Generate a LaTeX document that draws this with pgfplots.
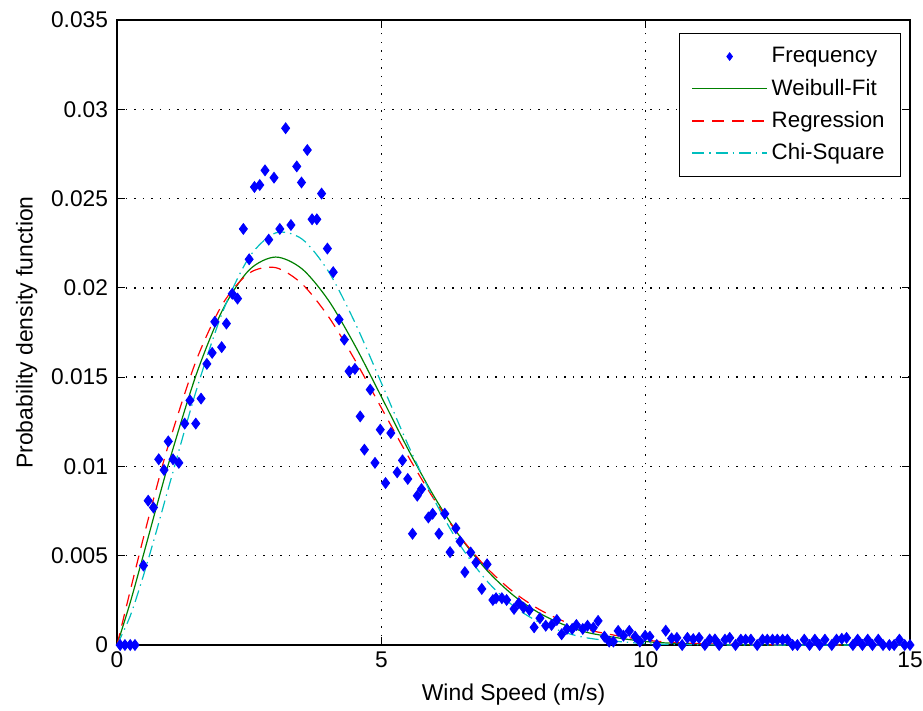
\documentclass[border=0pt]{standalone}
\usepackage{pgfplots}
\pgfplotsset{compat=1.18}
\usepackage{fontspec}
\setmainfont{Liberation Sans}
\definecolor{wgreen}{RGB}{0,128,0}
\definecolor{chicyan}{RGB}{0,190,190}
\definecolor{fblue}{RGB}{0,0,255}
\begin{document}
\begin{tikzpicture}
\begin{axis}[
  scale only axis, width=396.5bp, height=312.5bp,
  xmin=0, xmax=15, ymin=0, ymax=0.035,
  xtick={0,5,10,15}, xticklabels={0,5,10,15},
  ytick={0,0.005,0.01,0.015,0.02,0.025,0.03,0.035},
  yticklabels={0,0.005,0.01,0.015,0.02,0.025,0.03,0.035},
  scaled y ticks=false,
  tick align=inside, major tick length=4bp,
  xtick pos=both, ytick pos=both,
  grid=major,
  grid style={black, line width=0.7pt, dash pattern=on 0.7bp off 3.6bp},
  axis line style={black, line width=0.6pt},
  tick style={black, line width=0.6pt},
  ticklabel style={font=\fontsize{11.4}{13}\selectfont},
  yticklabel style={xshift=-1bp},
  label style={font=\fontsize{11.5}{13}\selectfont},
  xlabel={Wind Speed (m/s)}, ylabel={Probability density function},
  xlabel style={yshift=-1bp},
  legend cell align=left,
  legend style={at={(1,1)}, anchor=north east, xshift=-4.5bp, yshift=-6.5bp,
    font=\fontsize{11.2}{13}\selectfont,
    row sep=2.6bp, inner xsep=6bp, inner ysep=5bp},
  legend image code/.code={\draw[mark repeat=2,mark phase=2,#1] plot coordinates {(0cm,0cm) (0.66cm,0cm) (1.32cm,0cm)};},
]
\addlegendimage{only marks, mark=diamond*, mark size=1.9bp, color=fblue}
\addlegendentry{Frequency}
\addlegendimage{color=wgreen, line width=0.7pt}
\addlegendentry{Weibull-Fit}
\addlegendimage{color=red, line width=0.7pt, dash pattern=on 6bp off 4bp}
\addlegendentry{Regression}
\addlegendimage{color=chicyan, line width=0.7pt, dash pattern=on 6bp off 2.5bp on 0.7bp off 2.5bp}
\addlegendentry{Chi-Square}
\addplot[forget plot, only marks, mark=diamond*, mark size=2.7bp, color=fblue] coordinates {
(0.06,0) (0.15,0) (0.25,0) (0.34,0) (0.50,0.00445) (0.59,0.00808) (0.69,0.0077)
(0.79,0.0104) (0.89,0.0098) (0.97,0.0114) (1.06,0.0104) (1.17,0.0102) (1.28,0.0124)
(1.38,0.0137) (1.49,0.0124) (1.59,0.0138) (1.70,0.01574) (1.80,0.01636) (1.85,0.0181)
(1.98,0.01668) (2.07,0.0180) (2.18,0.01967) (2.28,0.0194) (2.39,0.0233) (2.50,0.0216)
(2.60,0.02565) (2.70,0.02576) (2.80,0.02658) (2.87,0.0227) (2.97,0.02617) (3.08,0.0233)
(3.19,0.02894) (3.29,0.02352) (3.40,0.0268) (3.49,0.0259) (3.60,0.02772) (3.69,0.02384)
(3.78,0.02384) (3.87,0.02528) (3.98,0.0222) (4.09,0.02088) (4.20,0.01823) (4.30,0.0171)
(4.39,0.01533) (4.50,0.01546) (4.60,0.0128) (4.68,0.01094) (4.79,0.0143) (4.88,0.0102)
(4.98,0.01206) (5.08,0.00907) (5.18,0.01187) (5.30,0.00967) (5.40,0.01034) (5.50,0.0093)
(5.59,0.00623) (5.68,0.00836) (5.76,0.00873) (5.89,0.00714) (5.97,0.00735) (6.09,0.00623)
(6.20,0.00735) (6.30,0.0052) (6.41,0.00654) (6.49,0.0058) (6.58,0.00408) (6.69,0.00518)
(6.79,0.00462) (6.90,0.00314) (7.00,0.00452) (7.11,0.00252) (7.17,0.00262) (7.28,0.00262)
(7.37,0.00252) (7.51,0.00202) (7.60,0.00234) (7.69,0.00209) (7.80,0.00196) (7.89,0.00099)
(8.00,0.0015) (8.11,0.00108) (8.22,0.00112) (8.32,0.0014) (8.41,0.0006) (8.51,0.0009)
(8.61,0.0009) (8.69,0.00112) (8.81,0.0009) (8.90,0.00108) (9.01,0.00097) (9.10,0.00135)
(9.22,0.00047) (9.31,0.00019) (9.39,0.00019) (9.48,0.00079) (9.58,0.00052) (9.69,0.00079)
(9.80,0.00047) (9.89,0.00019) (9.99,0.00052) (10.08,0.00047) (10.21,0) (10.38,0.0008)
(10.49,0.00037) (10.59,0.0004) (10.69,0) (10.79,0.0004) (10.90,0.00033) (11.01,0.0004)
(11.12,0) (11.21,0.00031) (11.31,0.00031) (11.39,0) (11.50,0.0003) (11.59,0.0004)
(11.70,0) (11.80,0.0003) (11.89,0.0003) (11.99,0.0003) (12.11,0) (12.21,0.0003)
(12.30,0.0003) (12.40,0.0003) (12.49,0.0003) (12.59,0.0003) (12.68,0.0003) (12.78,0)
(12.87,0) (13.00,0.0003) (13.10,0) (13.20,0.0003) (13.29,0) (13.39,0.0003) (13.52,0)
(13.61,0.0003) (13.71,0.00035) (13.80,0.0004) (13.92,0) (14.01,0.0003) (14.10,0)
(14.20,0.0003) (14.29,0) (14.40,0.0003) (14.49,0) (14.61,0) (14.70,0) (14.80,0.0003)
(14.90,0) (15.00,0)
};
\addplot[forget plot, smooth, color=wgreen, line width=0.6pt] coordinates {
(0,0) (0.25,0.002379) (0.5,0.005051) (0.75,0.007764) (1,0.010405) (1.5,0.015153)
(2,0.018781) (2.5,0.021001) (3,0.021725) (3.5,0.021063) (4,0.019300) (4.5,0.016780)
(5,0.013904) (5.5,0.010995) (6,0.008308) (6.5,0.006014) (7,0.004172) (7.5,0.002772)
(8,0.001767) (8.5,0.001080) (9,0.000634) (10,0.000193) (11,0.0000501) (12,0.000011)
(13,0.000002) (15,0)
};
\addplot[forget plot, smooth, color=red, line width=0.6pt, dash pattern=on 6bp off 4bp] coordinates {
(0,0) (0.25,0.003037) (0.5,0.006004) (0.75,0.008836) (1,0.011471) (1.5,0.015945)
(2,0.019108) (2.5,0.020824) (3,0.021132) (3.5,0.020222) (4,0.018388) (4.5,0.015964)
(5,0.013280) (5.5,0.010606) (6,0.008149) (6.5,0.006030) (7,0.004303) (7.5,0.002964)
(8,0.001971) (8.5,0.001267) (9,0.000787) (10,0.000274) (11,0.0000838) (12,0.0000225)
(13,0.000005) (15,0)
};
\addplot[forget plot, smooth, color=chicyan, line width=0.6pt, dash pattern=on 6bp off 2.5bp on 0.7bp off 2.5bp] coordinates {
(0,0) (0.25,0.001624) (0.5,0.003888) (0.75,0.006421) (1,0.009072) (1.5,0.014259)
(2,0.018663) (2.5,0.021709) (3,0.023077) (3.5,0.022732) (4,0.020917) (4.5,0.018062)
(5,0.014679) (5.5,0.011244) (6,0.008129) (6.5,0.005548) (7,0.003577) (7.5,0.002178)
(8,0.001252) (8.5,0.000679) (9,0.000348) (10,0.0000766) (11,0.0000134) (12,0.000002)
(15,0)
};
\end{axis}
\pgfresetboundingbox
\useasboundingbox ([xshift=-58.5bp,yshift=-33bp]current axis.south west) rectangle ([xshift=6.5bp,yshift=10bp]current axis.north east);
\end{tikzpicture}
\end{document}
